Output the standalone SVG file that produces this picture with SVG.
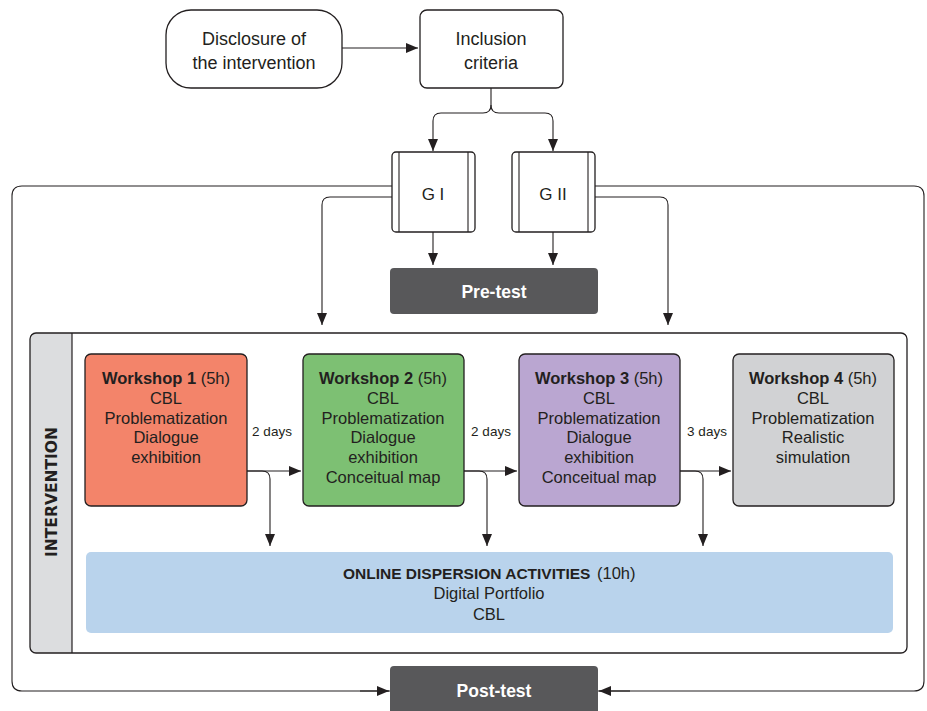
<svg xmlns="http://www.w3.org/2000/svg" width="927" height="711" viewBox="0 0 927 711">
<defs>
<marker id="ah" viewBox="0 0 12 10" refX="12" refY="5" markerWidth="12" markerHeight="10" markerUnits="userSpaceOnUse" orient="auto">
<path d="M0,0 L12,5 L0,10 Z" fill="#231f20"/>
</marker>
<style>
.t{font-family:"Liberation Sans",Arial,sans-serif;fill:#231f20;text-anchor:middle}
.big{font-size:18px}
.ws{font-size:16.5px}
.b{font-weight:bold}
.days{font-size:13.5px}
.box{stroke:#231f20;stroke-width:1.3}
.wt{font-family:"Liberation Sans",Arial,sans-serif;fill:#ffffff;font-weight:bold;font-size:17.5px;text-anchor:middle}
.c{fill:none;stroke:#231f20;stroke-width:1.1}
</style>
</defs>
<rect width="927" height="711" fill="#ffffff"/>

<g id="outer">
<path class="c" d="M392,186 H22 Q12,186 12,196 V681 Q12,691 22,691 H914 Q924,691 924,681 V196 Q924,186 914,186 H595" stroke-width="1.2"/>
</g>

<g id="disclosure">
<rect class="box" x="166" y="10" width="176" height="78" rx="25" fill="#ffffff"/>
<text class="t big" x="254" y="45">Disclosure of</text>
<text class="t big" x="254" y="69">the intervention</text>
</g>

<g id="inclusion">
<rect class="box" x="420" y="10" width="143" height="78" rx="7" fill="#ffffff"/>
<text class="t big" x="491" y="45">Inclusion</text>
<text class="t big" x="491" y="69">criteria</text>
</g>

<g id="g1">
<rect class="box" x="392" y="152" width="83" height="80" rx="4" fill="#ffffff"/>
<line class="c" x1="399" y1="152" x2="399" y2="232"/>
<line class="c" x1="468" y1="152" x2="468" y2="232"/>
<text class="t" x="433" y="200" font-size="17">G I</text>
</g>

<g id="g2">
<rect class="box" x="512" y="152" width="83" height="80" rx="4" fill="#ffffff"/>
<line class="c" x1="519" y1="152" x2="519" y2="232"/>
<line class="c" x1="588" y1="152" x2="588" y2="232"/>
<text class="t" x="553" y="200" font-size="17">G II</text>
</g>

<g id="pretest">
<rect x="390" y="268" width="208" height="46" rx="4" fill="#58585a"/>
<text class="wt" x="494" y="298">Pre-test</text>
</g>

<g id="intervention">
<path d="M36,333 H72 V653 H36 Q30,653 30,647 V339 Q30,333 36,333 Z" fill="#dcdddf"/>
<rect x="30" y="333" width="877" height="320" rx="6" fill="none" stroke="#231f20" stroke-width="1.3"/>
<line x1="72" y1="333" x2="72" y2="653" stroke="#231f20" stroke-width="1.2"/>
<text x="0" y="0" font-family="'DejaVu Sans',Verdana,sans-serif" font-weight="bold" font-size="15.5" fill="#231f20" text-anchor="middle" transform="translate(57,492) rotate(-90)">INTERVENTION</text>
</g>

<g id="w1">
<rect class="box" x="85" y="354" width="162" height="152" rx="6" fill="#f3846a"/>
<text class="t ws" x="166" y="384"><tspan font-weight="bold">Workshop 1</tspan> (5h)</text>
<text class="t ws" x="166" y="404">CBL</text>
<text class="t ws" x="166" y="424">Problematization</text>
<text class="t ws" x="166" y="443">Dialogue</text>
<text class="t ws" x="166" y="463">exhibition</text>
</g>

<g id="w2">
<rect class="box" x="303" y="354" width="161" height="152" rx="6" fill="#7dc073"/>
<text class="t ws" x="383" y="384"><tspan font-weight="bold">Workshop 2</tspan> (5h)</text>
<text class="t ws" x="383" y="404">CBL</text>
<text class="t ws" x="383" y="424">Problematization</text>
<text class="t ws" x="383" y="443">Dialogue</text>
<text class="t ws" x="383" y="463">exhibition</text>
<text class="t ws" x="383" y="483">Conceitual map</text>
</g>

<g id="w3">
<rect class="box" x="519" y="354" width="161" height="152" rx="6" fill="#baa6d1"/>
<text class="t ws" x="599" y="384"><tspan font-weight="bold">Workshop 3</tspan> (5h)</text>
<text class="t ws" x="599" y="404">CBL</text>
<text class="t ws" x="599" y="424">Problematization</text>
<text class="t ws" x="599" y="443">Dialogue</text>
<text class="t ws" x="599" y="463">exhibition</text>
<text class="t ws" x="599" y="483">Conceitual map</text>
</g>

<g id="w4">
<rect class="box" x="733" y="354" width="161" height="152" rx="6" fill="#d1d2d4"/>
<text class="t ws" x="813" y="384"><tspan font-weight="bold">Workshop 4</tspan> (5h)</text>
<text class="t ws" x="813" y="404">CBL</text>
<text class="t ws" x="813" y="424">Problematization</text>
<text class="t ws" x="813" y="443">Realistic</text>
<text class="t ws" x="813" y="463">simulation</text>
</g>

<g id="online">
<rect x="86" y="552" width="807" height="81" rx="5" fill="#b9d3ec"/>
<text x="343" y="579" font-family="'Liberation Sans',Arial,sans-serif" font-size="15.5" font-weight="bold" fill="#231f20">ONLINE DISPERSION ACTIVITIES</text>
<text x="597" y="579" font-family="'Liberation Sans',Arial,sans-serif" font-size="16.5" fill="#231f20">(10h)</text>
<text class="t" x="489" y="599" font-size="16.5">Digital Portfolio</text>
<text class="t" x="489" y="620" font-size="16.5">CBL</text>
</g>

<g id="posttest">
<rect x="390" y="666" width="208" height="50" rx="4" fill="#58585a"/>
<text class="wt" x="494" y="697">Post-test</text>
</g>

<g id="connectors">
<line class="c" x1="342" y1="48" x2="418" y2="48" marker-end="url(#ah)"/>
<path class="c" d="M491,88 V105 Q491,113 483,113 H441 Q433,113 433,121 V151" marker-end="url(#ah)"/>
<path class="c" d="M491,105 Q491,113 499,113 H545 Q553,113 553,121 V151" marker-end="url(#ah)"/>
<line class="c" x1="433" y1="232" x2="433" y2="265" marker-end="url(#ah)"/>
<line class="c" x1="553" y1="232" x2="553" y2="265" marker-end="url(#ah)"/>
<path class="c" d="M392,197 H330 Q322,197 322,205 V325" marker-end="url(#ah)"/>
<path class="c" d="M595,197 H660 Q668,197 668,205 V325" marker-end="url(#ah)"/>
<line class="c" x1="247" y1="471" x2="301" y2="471" marker-end="url(#ah)"/>
<path class="c" d="M247,471 H262 Q270,471 270,479 V546" marker-end="url(#ah)"/>
<line class="c" x1="464" y1="471" x2="517" y2="471" marker-end="url(#ah)"/>
<path class="c" d="M464,471 H479 Q487,471 487,479 V546" marker-end="url(#ah)"/>
<line class="c" x1="680" y1="471" x2="731" y2="471" marker-end="url(#ah)"/>
<path class="c" d="M680,471 H695 Q703,471 703,479 V546" marker-end="url(#ah)"/>
<line class="c" x1="360" y1="691" x2="389" y2="691" marker-end="url(#ah)"/>
<line class="c" x1="630" y1="691" x2="599" y2="691" marker-end="url(#ah)"/>
<text class="t days" x="272" y="436">2 days</text>
<text class="t days" x="491" y="436">2 days</text>
<text class="t days" x="707" y="436">3 days</text>
</g>
</svg>
